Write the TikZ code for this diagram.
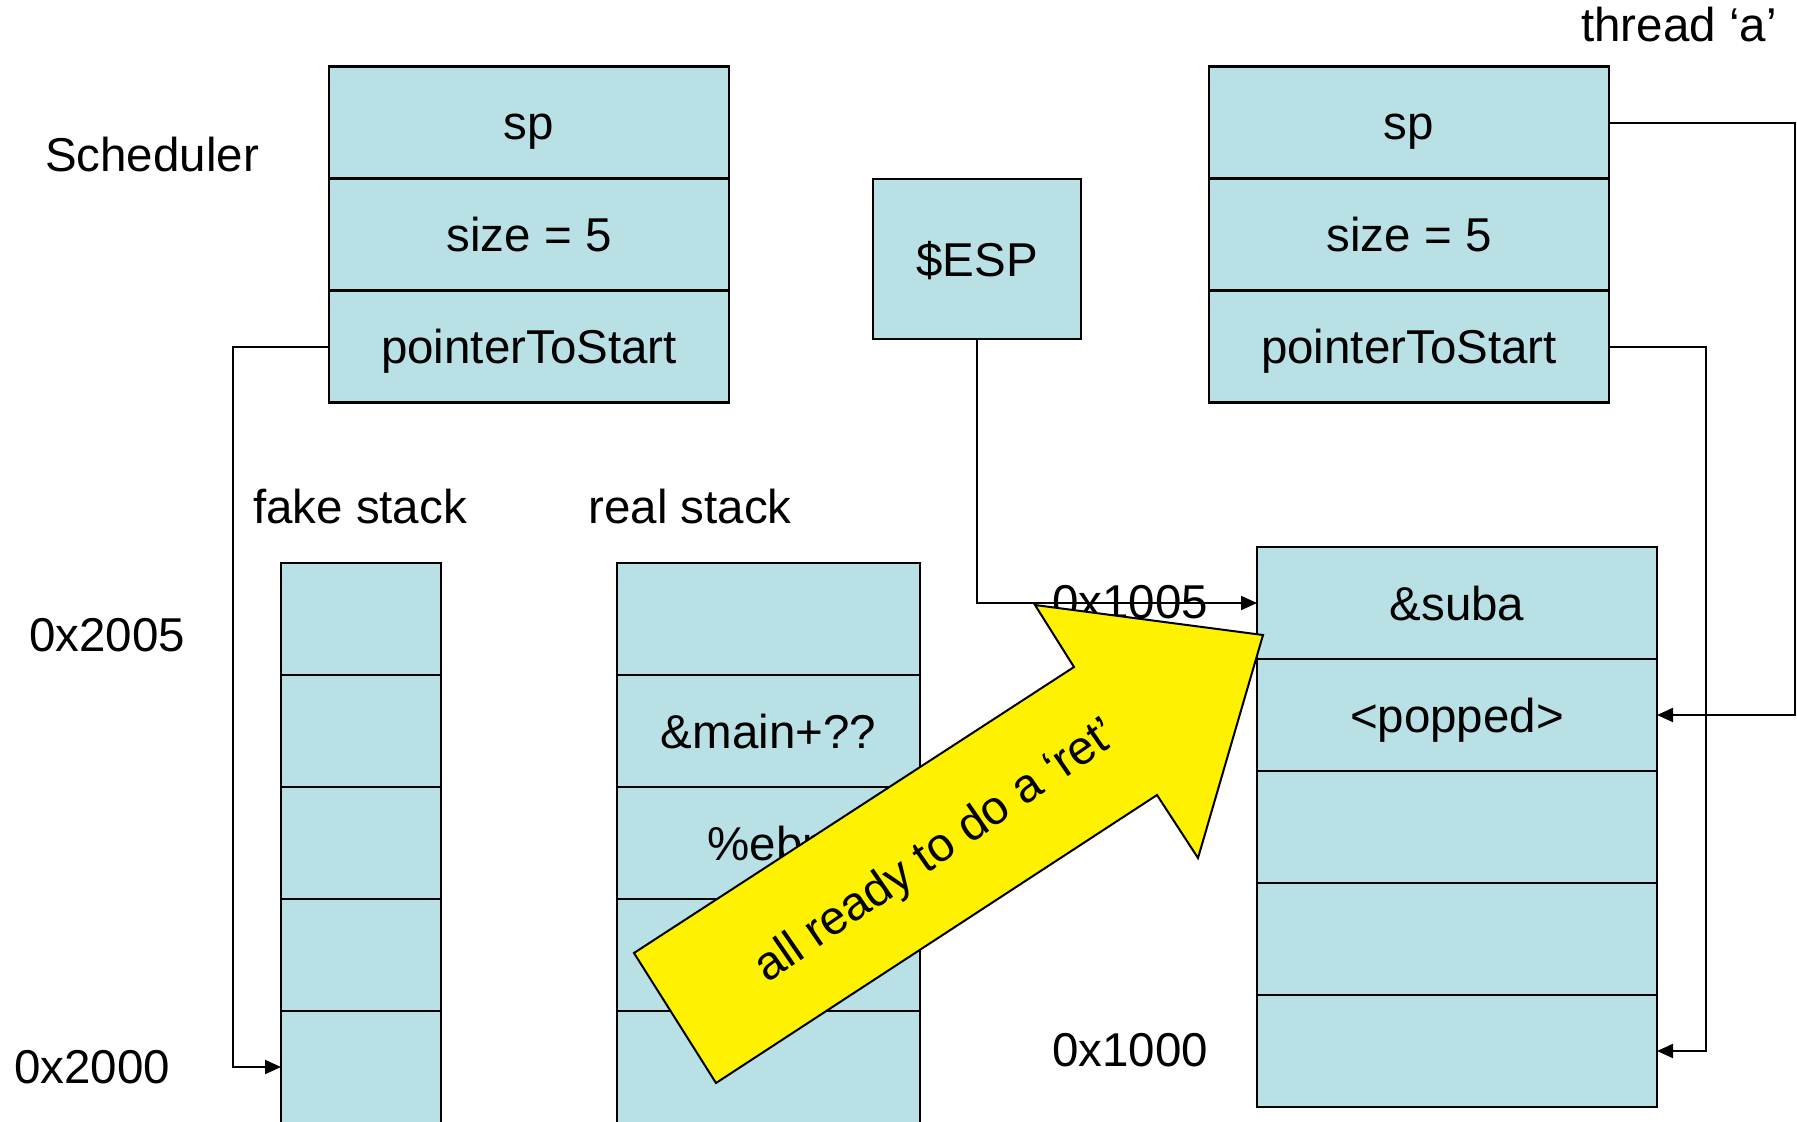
\documentclass[tikz,border=0pt]{standalone}
\usepackage{fontspec}
\setmainfont{Liberation Sans}
\usetikzlibrary{positioning,arrows.meta}
\definecolor{cellblue}{RGB}{185,224,228}
\newcommand{\bigtext}{\fontsize{47.5}{57}\selectfont}

\begin{document}
\begin{tikzpicture}[
    x=1pt,y=-1pt,
    cell/.style={draw,line width=2.5pt,fill=cellblue,minimum width=400pt,minimum height=112pt,inner sep=0pt,outer sep=0pt,
      text height=34pt,text depth=0pt,font=\bigtext},
    lbl/.style={inner sep=0pt,font=\bigtext},
    arr/.style={-{Triangle[length=16pt,width=14pt]},line width=2pt}
  ]
    \useasboundingbox (0,0) rectangle (1797,1122);

    % scheduler record
    \node[lbl] (sched) at (152,155) {Scheduler};
    \node[cell] (ssp) at (529,122.5) {sp};
    \node[cell, below=0pt of ssp] (ssize) {size = 5};
    \node[cell, below=0pt of ssize] (sptr) {pointerToStart};

    % thread record
    \node[lbl] (thr) at (1679,25) {thread `a'};
    \node[cell] (tsp) at (1409,122.5) {sp};
    \node[cell, below=0pt of tsp] (tsize) {size = 5};
    \node[cell, below=0pt of tsize] (tptr) {pointerToStart};

    \node[cell, minimum width=208pt, minimum height=160pt] (esp) at (977,259) {\$ESP};

    % fake stack
    \node[lbl] (fakelbl) at (360,507) {fake stack};
    \node[cell, minimum width=160pt] (f1) at (361,619) {};
    \node[cell, minimum width=160pt, below=0pt of f1] (f2) {};
    \node[cell, minimum width=160pt, below=0pt of f2] (f3) {};
    \node[cell, minimum width=160pt, below=0pt of f3] (f4) {};
    \node[cell, minimum width=160pt, below=0pt of f4] (f5) {};
    \node[lbl] (a2005) at (107,635) {0x2005};
    \node[lbl] (a2000) at (92,1067) {0x2000};

    % real stack
    \node[lbl] (reallbl) at (690,507) {real stack};
    \node[cell, minimum width=303pt] (r1) at (768.5,619) {};
    \node[cell, minimum width=303pt, below=0pt of r1] (r2) {\&main+??};
    \node[cell, minimum width=303pt, below=0pt of r2] (r3) {\%ebp};
    \node[cell, minimum width=303pt, below=0pt of r3] (r4) {};
    \node[cell, minimum width=303pt, below=0pt of r4] (r5) {};

    % thread stack
    \node[cell] (t1) at (1457,603) {\&suba};
    \node[cell, below=0pt of t1] (t2) {<popped>};
    \node[cell, below=0pt of t2] (t3) {};
    \node[cell, below=0pt of t3] (t4) {};
    \node[cell, below=0pt of t4] (t5) {};
    \node[lbl] (a1005) at (1130,602) {0x1005};
    \node[lbl] (a1000) at (1130,1050) {0x1000};

    \draw[arr] (sptr.west) -- ++(-96,0) |- (f5.west);
    \draw[arr] (esp.south) |- (t1.west);
    \draw[arr] (tsp.east) -- ++(186,0) |- (t2.east);
    \draw[arr] (tptr.east) -- ++(97,0) |- (t5.east);

    % big yellow arrow
    \draw[line width=2pt, fill=yellow] (634,953) -- (1074,667) -- (1035,605) -- (1263,635)
      -- (1198,858) -- (1157,795) -- (716,1083) -- cycle;
    \node[lbl, rotate=34.5] (ready) at (937,852) {all ready to do a `ret'};
  \end{tikzpicture}
\end{document}
